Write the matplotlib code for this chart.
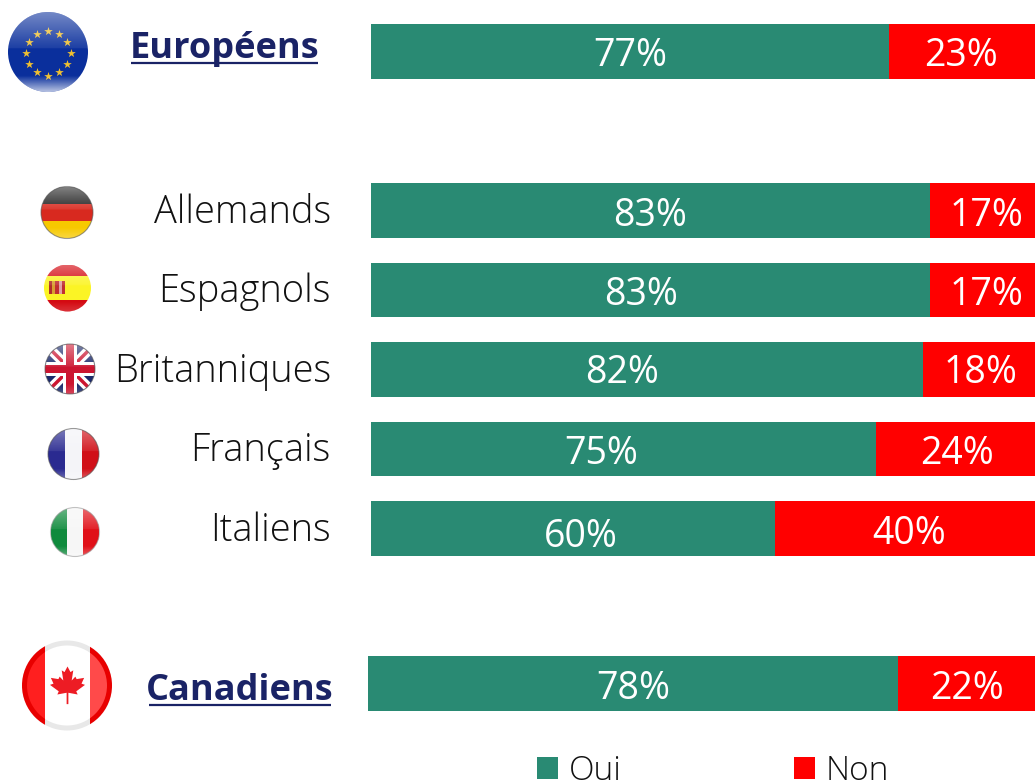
import numpy as np
import matplotlib
matplotlib.use("Agg")
import matplotlib.pyplot as plt
from matplotlib.patches import Circle, Rectangle, Polygon, Patch
from matplotlib import font_manager as fm

# values
countries = ["Allemands", "Espagnols", "Britanniques", "Français", "Italiens"]
oui_countries = [83, 83, 82, 75, 60]
non_countries = [17, 17, 18, 24, 40]
oui_europe = 77
non_europe = 23
oui_canada = 78
non_canada = 22
legend_names = ["Oui", "Non"]

GREEN = "#298a73"
RED = "#ff0000"
NAVY = "#1a2366"
W, H = 1035, 780

LIGHT_FONT = dict(family="Open Sans", weight="light")
BOLD_FONT = dict(family="Open Sans", weight="bold")


def row_axes(left_px):
    # y axis counts rows, row 0 = Allemands
    a = fig.add_axes([left_px / W, 0, 1 - left_px / W, 1])
    a.set_ylim(7.164, -2.648)
    a.axis("off")
    return a


def stacked(a, y, oui, non, dx=(0, 0), dy=(0, 0)):
    b1 = a.barh(y, oui, height=0.69, color=GREEN, linewidth=0)
    b2 = a.barh(y, non, left=oui, height=0.69, color=RED, linewidth=0)
    for bar, val, ox, oy in zip([b1[0], b2[0]], [oui, non], dx, dy):
        a.annotate(f"{val}%", (bar.get_x() + bar.get_width() / 2, y),
                   xytext=(ox * 0.72, -oy * 0.72), textcoords="offset points",
                   ha="center", va="center_baseline", color="white", fontsize=27, family="Open Sans")


def gloss(cx, cy, r, clip, top=0.38, bottom=0.25):
    # light band on upper half and soft glow along the lower edge
    n = 64
    al = np.zeros(n)
    t = np.linspace(0, 1, n)
    al[t < 0.45] = top * (1 - t[t < 0.45] / 0.45) + 0.08
    al[t > 0.8] = bottom * (t[t > 0.8] - 0.8) / 0.2
    img = np.ones((n, 1, 4))
    img[:, 0, 3] = al
    im = ov.imshow(img, extent=(cx - r, cx + r, cy + r, cy - r), aspect="auto", zorder=6, interpolation="bilinear")
    im.set_clip_path(clip)


def disc(cx, cy, r):
    c = Circle((cx, cy), r, transform=ov.transData, fc="none", ec="none")
    ov.add_patch(c)
    return c


def stripes(cx, cy, r, clip, colors, vertical=False, weights=None):
    weights = weights or [1] * len(colors)
    pos = -r
    for col, w in zip(colors, weights):
        size = 2 * r * w / sum(weights)
        if vertical:
            p = Rectangle((cx + pos, cy - r), size, 2 * r, fc=col, ec="none", zorder=4)
        else:
            p = Rectangle((cx - r, cy + pos), 2 * r, size, fc=col, ec="none", zorder=4)
        ov.add_patch(p)
        p.set_clip_path(clip)
        pos += size


def rim(cx, cy, r, col="#555555"):
    ov.add_patch(Circle((cx, cy), r, fc="none", ec=col, lw=0.8, alpha=0.6, zorder=7))


fig = plt.figure(figsize=(W / 100, H / 100), dpi=100, facecolor="white")

# bars
ax = row_axes(371)
ax.set_xlim(0, 664 / 6.73)
stacked(ax, -2, oui_europe, non_europe, (0, -6), (0, 0))
dxs = [(0, 0), (-9, 0), (-25, -3), (-22, 0), (8, 0)]
dys = [(1, 1), (1, 1), (-1, -1), (1, 1), (4, 1)]
for i, name in enumerate(countries):
    stacked(ax, i, oui_countries[i], non_countries[i], dxs[i], dys[i])
    ax.text(-40 / 6.73, i - 0.03, name, ha="right", va="center_baseline", fontsize=27.4, color="#111111", **LIGHT_FONT)

ax_can = row_axes(368)
ax_can.set_xlim(0, 667 / 6.79)
stacked(ax_can, 5.95, oui_canada, non_canada, (0, -5), (1, 1))

# overlay in pixel coordinates for flags and headings
ov = fig.add_axes([0, 0, 1, 1], facecolor="none", zorder=5)
ov.axis("off")

# EU
c = disc(48, 52, 40)
stripes(48, 52, 40, c, ["#0a2f9c"])
for ang in np.arange(0, 360, 30):
    ov.scatter(48 + 22.5 * np.cos(np.radians(ang)), 53 + 22.5 * np.sin(np.radians(ang)),
               marker="*", s=42, color="#f0c030", lw=0, zorder=5)
gloss(48, 52, 40, c, 0.35, 0.7)

# Germany
c = disc(67, 212.5, 26)
stripes(67, 212.5, 26, c, ["#1c1c1c", "#d8291f", "#f7c900"])
gloss(67, 212.5, 26, c)
rim(67, 212.5, 26)

# Spain
c = disc(67.5, 288, 23.5)
stripes(67.5, 288, 23.5, c, ["#d40a12", "#fbf425", "#d40a12"], weights=[1, 2, 1])
crest = [(-10, "#b0302a"), (-6, "#d8a030"), (-2, "#c03030"), (2, "#e0a0a0"), (6, "#c03030")]
for dx, col in crest:
    p = Rectangle((57 + dx * 0.8, 281), 3.4, 13, fc=col, ec="none", zorder=5)
    ov.add_patch(p)
gloss(67.5, 288, 23.5, c, 0.3, 0.15)

# UK
c = disc(70, 369, 25)
stripes(70, 369, 25, c, ["#1b2a6b"])
for (x0, y0, x1, y1) in [(45, 344, 95, 394), (45, 394, 95, 344)]:
    for col, lw in [("white", 7), ("#cc1530", 2.5)]:
        ln, = ov.plot([x0, x1], [y0, y1], color=col, lw=lw, zorder=4.2, solid_capstyle="butt")
        ln.set_clip_path(c)
for col, wid in [("white", 14), ("#cc1530", 8)]:
    for p in [Rectangle((70 - wid / 2, 344), wid, 50, fc=col, ec="none", zorder=4.4),
              Rectangle((45, 369 - wid / 2), 50, wid, fc=col, ec="none", zorder=4.4)]:
        ov.add_patch(p)
        p.set_clip_path(c)
gloss(70, 369, 25, c, 0.35, 0.2)
rim(70, 369, 25)

# France
c = disc(73.5, 454, 25.5)
stripes(73.5, 454, 25.5, c, ["#2a2a90", "#f4f4f8", "#d01018"], vertical=True)
gloss(73.5, 454, 25.5, c, 0.3, 0.3)
rim(73.5, 454, 25.5)

# Italy
c = disc(75, 532, 24.5)
stripes(75, 532, 24.5, c, ["#0f8a3c", "#f6f6f6", "#e01018"], vertical=True)
gloss(75, 532, 24.5, c, 0.3, 0.3)
rim(75, 532, 24.5, "#999999")

# Canada
ov.add_patch(Circle((67, 685.5), 45, fc="#e8e8e8", ec="none", zorder=3))
c = disc(67, 685.5, 45)
for x0, wid, col in [(22, 22.5, "#e80000"), (89.5, 22.5, "#e80000")]:
    p = Rectangle((x0, 640), wid, 91, fc=col, ec="none", zorder=3.2)
    ov.add_patch(p)
    p.set_clip_path(c)
c2 = disc(67, 685.5, 40)
for x0, wid, col in [(22, 22.5, "#ff1f1f"), (44.5, 45, "white"), (89.5, 22.5, "#ff4a4a")]:
    p = Rectangle((x0, 640), wid, 91, fc=col, ec="none", zorder=3.4)
    ov.add_patch(p)
    p.set_clip_path(c2)
half = [(0, 1.0), (0.17, 0.68), (0.33, 0.78), (0.24, 0.2), (0.45, 0.42), (0.52, 0.28), (0.95, 0.35),
        (0.8, 0.02), (1.0, -0.05), (0.5, -0.42), (0.58, -0.6), (0.05, -0.5), (0.05, -1.15)]
leaf = half + [(-x, y) for x, y in reversed(half[1:])]
ov.add_patch(Polygon([(67.5 + 17.5 * x, 684 - 17.5 * y) for x, y in leaf], fc="#ed1c24", ec="none", zorder=5))

# bold headings with underline
ov.text(224.5, 58, "Européens", ha="center", va="baseline", color=NAVY, fontsize=26, **BOLD_FONT)
ov.plot([131, 317.5], [63, 63], color=NAVY, lw=1.6, solid_capstyle="butt")
ov.text(240, 700, "Canadiens", ha="center", va="baseline", color=NAVY, fontsize=26, **BOLD_FONT)
ov.plot([149, 331], [705, 705], color=NAVY, lw=1.6, solid_capstyle="butt")

ov.set_xlim(0, W)
ov.set_ylim(H, 0)

# legend
handles = [Patch(color=GREEN, lw=0), Patch(color=RED, lw=0)]
fig.legend(handles, legend_names, ncol=2, frameon=False, loc="center left",
           bbox_to_anchor=(537 / W, 1 - 771 / H), borderpad=0, borderaxespad=0,
           handlelength=0.63, handleheight=0.6, handletextpad=0.33, columnspacing=5.15,
           prop=fm.FontProperties(family="Open Sans", weight="light", size=24), labelcolor="#111111")

fig.savefig("out.png", dpi=100)
